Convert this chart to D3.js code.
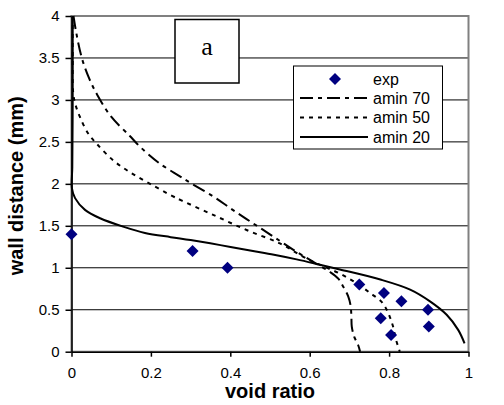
<!DOCTYPE html>
<html>
<head>
<meta charset="utf-8">
<script src="https://cdn.jsdelivr.net/npm/d3@7"></script>
<style>
  body { margin: 0; background: #fff; }
  svg { display: block; font-family: "Liberation Sans", Arial, sans-serif; }
  .grid line { stroke: #000; stroke-width: 1; }
  .axis path, .axis line { stroke: #000; stroke-width: 1.5; }
  .axis text { font-size: 15px; fill: #000; }
  .curve { fill: none; stroke: #000; stroke-width: 2; }
</style>
</head>
<body>
<svg id="chart" width="504" height="405"></svg>
<script>
// experimental points
var expX = [0, 0.305, 0.393, 0.725, 0.787, 0.831, 0.898, 0.779, 0.9, 0.805];
var expY = [1.4, 1.2, 1.0, 0.8, 0.7, 0.6, 0.5, 0.4, 0.3, 0.2];

// amin 70 (dash-dot)
var a70X = [0.005, 0.012, 0.026, 0.045, 0.065, 0.1, 0.147, 0.173, 0.22, 0.273, 0.3, 0.357, 0.4, 0.441, 0.48, 0.525, 0.56, 0.609, 0.651, 0.672, 0.685, 0.697, 0.703, 0.705, 0.706, 0.712, 0.722, 0.727];
var a70Y = [4.0, 3.8, 3.5, 3.25, 3.06, 2.8, 2.57, 2.44, 2.25, 2.09, 2.01, 1.85, 1.71, 1.58, 1.46, 1.32, 1.21, 1.07, 0.95, 0.87, 0.77, 0.66, 0.55, 0.42, 0.3, 0.18, 0.08, 0.0];

// amin 50 (dotted)
var a50X = [0.003, 0.003, 0.004, 0.009, 0.021, 0.042, 0.063, 0.105, 0.15, 0.198, 0.252, 0.278, 0.357, 0.441, 0.525, 0.584, 0.609, 0.676, 0.72, 0.752, 0.78, 0.794, 0.803, 0.81, 0.817, 0.827];
var a50Y = [4.0, 3.5, 3.1, 2.96, 2.8, 2.6, 2.48, 2.28, 2.13, 2.0, 1.86, 1.8, 1.63, 1.45, 1.29, 1.13, 1.07, 0.93, 0.81, 0.70, 0.6, 0.5, 0.4, 0.3, 0.15, 0.0];

// amin 20 (solid)
var a20X = [0.003, 0.003, 0.002, 0.001, 0.009, 0.034, 0.072, 0.13, 0.185, 0.25, 0.3, 0.375, 0.45, 0.51, 0.567, 0.618, 0.676, 0.778, 0.853, 0.903, 0.945, 0.974, 0.99];
var a20Y = [4.0, 3.0, 2.2, 1.95, 1.83, 1.69, 1.59, 1.49, 1.415, 1.365, 1.33, 1.27, 1.205, 1.155, 1.1, 1.045, 0.98, 0.86, 0.74, 0.6, 0.44, 0.26, 0.1];

var xTicks = [0, 0.2, 0.4, 0.6, 0.8, 1];
var yTicks = [0, 0.5, 1, 1.5, 2, 2.5, 3, 3.5, 4];

var legendNames = ["exp", "amin 70", "amin 50", "amin 20"];

var svg = d3.select("#chart");

var pLeft = 71.5, pRight = 468.5, pTop = 16, pBottom = 351.7;

var x = d3.scaleLinear().domain([0, 1]).range([pLeft, pRight]);
var y = d3.scaleLinear().domain([0, 4]).range([pBottom, pTop]);

// gridlines
svg.append("g").attr("class", "grid")
    .selectAll("line")
    .data(yTicks.filter(function(d) { return d > 0 && d < 4; }))
    .enter().append("line")
    .attr("x1", pLeft).attr("x2", pRight)
    .attr("y1", function(d) { return y(d); })
    .attr("y2", function(d) { return y(d); });

// plot area border
svg.append("rect")
    .attr("x", pLeft).attr("y", pTop)
    .attr("width", pRight - pLeft).attr("height", pBottom - pTop)
    .attr("fill", "none").attr("stroke", "#808080").attr("stroke-width", 2);

// "a" box
svg.append("rect")
    .attr("x", 175).attr("y", 19.5).attr("width", 64).attr("height", 63.5)
    .attr("fill", "#fff").attr("stroke", "#000").attr("stroke-width", 1.5);
svg.append("text")
    .attr("x", 207).attr("y", 55)
    .attr("text-anchor", "middle")
    .style("font-family", "'Liberation Serif', 'Times New Roman', serif")
    .style("font-size", "26px")
    .text("a");

// curves
var line = d3.line()
    .x(function(d) { return x(d[0]); })
    .y(function(d) { return y(d[1]); })
    .curve(d3.curveCatmullRom.alpha(0.5));

function pairs(xs, ys) { return xs.map(function(v, i) { return [v, ys[i]]; }); }

svg.append("path").attr("class", "curve")
    .attr("d", line(pairs(a70X, a70Y)))
    .attr("stroke-dasharray", "13,5,4,5");
svg.append("path").attr("class", "curve")
    .attr("d", line(pairs(a50X, a50Y)))
    .attr("stroke-dasharray", "4,5");
svg.append("path").attr("class", "curve")
    .attr("d", line(pairs(a20X, a20Y)));

// axes
var yAxis = d3.axisLeft(y).tickValues(yTicks).tickSize(6).tickSizeOuter(0)
    .tickPadding(6).tickFormat(function(d) { return String(d); });
svg.append("g").attr("class", "axis")
    .attr("transform", "translate(" + pLeft + ",0)")
    .call(yAxis);

var xAxis = d3.axisBottom(x).tickValues(xTicks).tickSize(5).tickSizeOuter(0)
    .tickPadding(11).tickFormat(function(d) { return String(d); });
svg.append("g").attr("class", "axis")
    .attr("transform", "translate(0," + pBottom + ")")
    .call(xAxis);

// experimental diamonds
var diamond = "M0,-6L6,0L0,6L-6,0Z";
svg.append("g")
    .selectAll("path")
    .data(pairs(expX, expY))
    .enter().append("path")
    .attr("d", diamond)
    .attr("fill", "#000080")
    .attr("transform", function(d) { return "translate(" + x(d[0]) + "," + y(d[1]) + ")"; });

// axis titles
svg.append("text")
    .attr("x", (pLeft + pRight) / 2).attr("y", 398)
    .attr("text-anchor", "middle")
    .style("font-size", "20px").style("font-weight", "bold")
    .text("void ratio");
svg.append("text")
    .attr("transform", "translate(23," + ((pTop + pBottom) / 2 + 2) + ") rotate(-90)")
    .attr("text-anchor", "middle")
    .style("font-size", "20px").style("font-weight", "bold")
    .text("wall distance (mm)");

// legend
var lg = svg.append("g");
lg.append("rect")
    .attr("x", 293.5).attr("y", 66).attr("width", 149).attr("height", 83)
    .attr("fill", "#fff").attr("stroke", "#000").attr("stroke-width", 1);
var rowY = [79, 98, 117.5, 137];
var dashes = [null, "13,5,4,5", "4,5", null];
legendNames.forEach(function(name, i) {
    if (i == 0) {
        lg.append("path").attr("d", diamond).attr("fill", "#000080")
            .attr("transform", "translate(335," + rowY[i] + ")");
    } else {
        lg.append("line")
            .attr("x1", 300).attr("x2", 368)
            .attr("y1", rowY[i]).attr("y2", rowY[i])
            .attr("stroke", "#000").attr("stroke-width", 2)
            .attr("stroke-dasharray", dashes[i]);
    }
    lg.append("text")
        .attr("x", 373).attr("y", rowY[i]).attr("dy", "0.35em")
        .style("font-size", "16px")
        .text(name);
});
</script>
</body>
</html>
